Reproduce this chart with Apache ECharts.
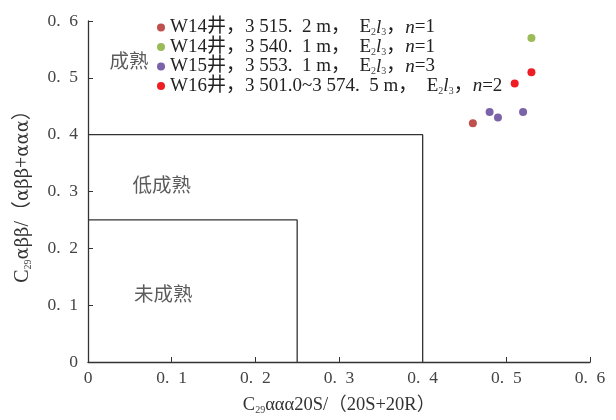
<!DOCTYPE html>
<html><head><meta charset="utf-8">
<script src="https://cdn.jsdelivr.net/npm/echarts@6/dist/echarts.min.js"></script>
<style>html,body{margin:0;padding:0;background:#fff}#c{width:616px;height:420px}</style>
</head><body><div id="c"></div>
<script>
// ---- data ----
const wells = ['W14井', 'W14井', 'W15井', 'W16井'];
const depths = ['3 515.\u20022 m，', '3 540.\u20021 m，', '3 553.\u20021 m，', '3 501.0~3 574.\u20025 m，'];
const counts = [1, 1, 3, 2];
const colors = ['#c0504d', '#9bbb59', '#7b62a9', '#ee1d24'];
const w14a = [[0.46, 0.42]];
const w14b = [[0.53, 0.57]];
const w15 = [[0.48, 0.44], [0.49, 0.43], [0.52, 0.44]];
const w16 = [[0.51, 0.49], [0.53, 0.51]];
const matureBox = [[0, 0.4], [0.4, 0.4], [0.4, 0]];
const lowBox = [[0, 0.25], [0.25, 0.25], [0.25, 0]];
const zoneLabels = [[0.049, 0.527, '成熟'], [0.088, 0.309, '低成熟'], [0.09, 0.117, '未成熟']];
const xTicks = ['0', '0.\u20021', '0.\u20022', '0.\u20023', '0.\u20024', '0.\u20025', '0.\u20026'];
const yTicks = ['0', '0.\u20021', '0.\u20022', '0.\u20023', '0.\u20024', '0.\u20025', '0.\u20026'];

const FONT = "'Liberation Serif','Noto Sans CJK SC',serif";
const GREEK = "'DejaVu Serif','Liberation Serif',serif";
const names = wells.map((w, i) => w + '，' + depths[i] + i);
const rich = {
  a: { fontSize: 19, fontFamily: FONT, color: '#222', lineHeight: 20 },
  i: { fontSize: 19, fontFamily: FONT, color: '#222', fontStyle: 'italic', lineHeight: 20 },
  s: { fontSize: 10, fontFamily: FONT, color: '#444', verticalAlign: 'bottom', padding: [9, 0, 0, 0], lineHeight: 20 }
};
const seriesData = [w14a, w14b, w15, w16];
const chart = echarts.init(document.getElementById('c'), null, { renderer: 'canvas' });
const series = seriesData.map((d, i) => ({
  name: names[i], type: 'scatter', data: d, symbolSize: 8,
  itemStyle: { color: colors[i], opacity: 1 }, z: 5
}));
series.push({ type: 'line', data: matureBox, symbol: 'none', silent: true,
  lineStyle: { color: '#333', width: 1.3 }, z: 2 });
series.push({ type: 'line', data: lowBox, symbol: 'none', silent: true,
  lineStyle: { color: '#333', width: 1.3 }, z: 2 });
series.push({ type: 'scatter', data: zoneLabels, symbolSize: 0, silent: true,
  label: { show: true, position: 'inside', formatter: p => p.data[2],
    fontSize: 19.5, color: '#333', fontFamily: FONT } });

const xNameRich = {
  t: { fontSize: 18.5, fontFamily: FONT, color: '#333' },
  s: { fontSize: 10, fontFamily: FONT, color: '#444', verticalAlign: 'bottom', padding: [9, 0, 0, 0] }
};
const yNameRich = {
  t: { fontSize: 20, fontFamily: FONT, color: '#333' },
  g: { fontSize: 18, fontFamily: GREEK, color: '#333' },
  s: { fontSize: 10, fontFamily: FONT, color: '#444', verticalAlign: 'bottom', padding: [9, 0, 0, 0] }
};

chart.setOption({
  animation: false,
  grid: { left: 88, right: 26, top: 21, bottom: 54 },
  legend: {
    data: names, orient: 'vertical', left: 152, top: 13, icon: 'circle',
    itemWidth: 8, itemHeight: 8, itemGap: 0, selectedMode: false,
    textStyle: { fontSize: 19, fontFamily: FONT, color: '#222', rich: rich },
    formatter: function (n) {
      const i = names.indexOf(n);
      return '{a|' + wells[i] + '，' + depths[i] + '\u2002E}{s|2}{i|l}{s|3}{a|，}{i|n}{a|=' + counts[i] + '}';
    }
  },
  xAxis: {
    type: 'value', min: 0, max: 0.6, interval: 0.1,
    name: '{t|C}{s|29}{t|ααα20S/（20S+20R）}', nameLocation: 'middle', nameGap: 34,
    nameTextStyle: { rich: xNameRich },
    axisLine: { show: true, lineStyle: { color: '#333', width: 1.3 } },
    axisTick: { show: true, inside: true, length: 5, lineStyle: { color: '#333' } },
    axisLabel: { fontSize: 17.5, fontFamily: FONT, color: '#444', margin: 8,
      formatter: v => xTicks[Math.round(v * 10)] },
    splitLine: { show: false }
  },
  yAxis: {
    type: 'value', min: 0, max: 0.6, interval: 0.1,
    name: '{t|C}{s|29}{g|αββ}{t|/（}{g|αββ}{t|+}{g|ααα}{t|）}', nameLocation: 'middle', nameGap: 55, nameRotate: 90,
    nameTextStyle: { rich: yNameRich },
    axisLine: { show: true, lineStyle: { color: '#333', width: 1.3 } },
    axisTick: { show: true, inside: true, length: 5, lineStyle: { color: '#333' } },
    axisLabel: { fontSize: 17.5, fontFamily: FONT, color: '#444', margin: 10,
      formatter: v => yTicks[Math.round(v * 10)] },
    splitLine: { show: false }
  },
  series: series
});
</script></body></html>
